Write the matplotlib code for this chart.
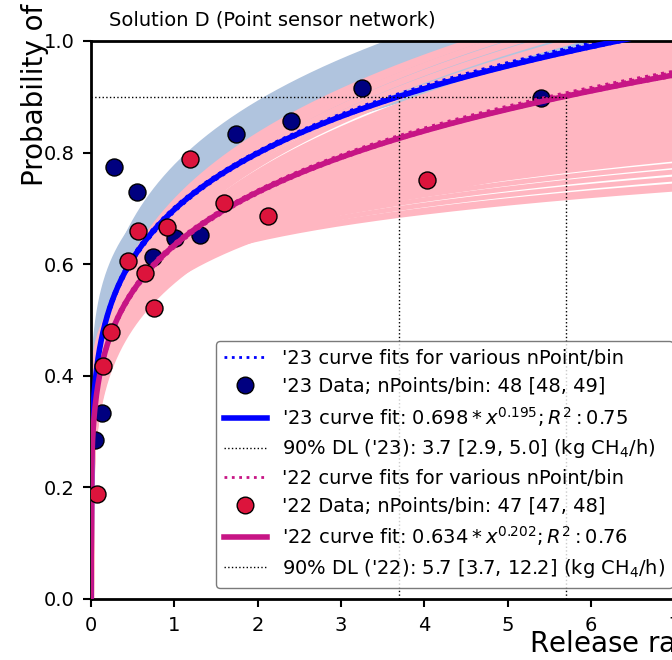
import matplotlib
matplotlib.use("Agg")
import matplotlib.pyplot as plt
from matplotlib.lines import Line2D
import numpy as np

# data
x23 = [0.048, 0.128, 0.28, 0.55, 0.74, 1.01, 1.31, 1.74, 2.40, 3.25, 5.40]
y23 = [0.285, 0.334, 0.775, 0.730, 0.613, 0.647, 0.653, 0.833, 0.856, 0.916, 0.898]

x22 = [0.068, 0.14, 0.24, 0.44, 0.57, 0.65, 0.756, 0.91, 1.19, 1.60, 2.13, 4.03]
y22 = [0.188, 0.418, 0.479, 0.605, 0.660, 0.584, 0.522, 0.666, 0.788, 0.709, 0.687, 0.751]

# main fits  a * x^b
fit23 = (0.698, 0.195)
fit22 = (0.634, 0.202)
dl23 = 3.7
dl22 = 5.7

# fits for various nPoint/bin (dotted)
var23_a = [0.698, 0.694, 0.702, 0.696, 0.700, 0.699]
var23_b = [0.195, 0.198, 0.192, 0.199, 0.197, 0.193]
var22_a = [0.634, 0.630, 0.638, 0.632, 0.636, 0.635]
var22_b = [0.202, 0.205, 0.199, 0.206, 0.204, 0.200]

# bands of fits
band23_a = [0.705, 0.712, 0.719, 0.726, 0.733, 0.740, 0.747, 0.754, 0.761, 0.768, 0.775,
            0.700, 0.705, 0.710, 0.715, 0.720, 0.725, 0.730, 0.735, 0.740]
band23_b = [0.196, 0.197, 0.197, 0.198, 0.198, 0.199, 0.199, 0.200, 0.200, 0.200, 0.200,
            0.185, 0.180, 0.175, 0.170, 0.165, 0.160, 0.155, 0.150, 0.145]

band22_a = [0.571, 0.580, 0.590, 0.600, 0.610, 0.620, 0.630, 0.640, 0.650, 0.660, 0.670,
            0.680, 0.690, 0.700, 0.710, 0.575, 0.580,
            0.634, 0.633, 0.632, 0.631, 0.630, 0.629, 0.628, 0.627, 0.626, 0.625, 0.624,
            0.623, 0.622, 0.621, 0.620, 0.619, 0.618, 0.617, 0.616, 0.615, 0.614, 0.613,
            0.612, 0.610, 0.608, 0.606, 0.603, 0.600, 0.600]
band22_b = [0.220, 0.222, 0.224, 0.226, 0.228, 0.230, 0.232, 0.234, 0.236, 0.237, 0.237,
            0.236, 0.235, 0.233, 0.225, 0.170, 0.165,
            0.205, 0.202, 0.198, 0.195, 0.192, 0.189, 0.186, 0.183, 0.180, 0.177, 0.174,
            0.171, 0.168, 0.165, 0.162, 0.159, 0.156, 0.153, 0.150, 0.147, 0.144, 0.141,
            0.138, 0.132, 0.126, 0.120, 0.114, 0.108, 0.104]

xx = np.linspace(0, 14, 1500)

fig = plt.figure(figsize=(6.72, 6.60), dpi=100)
ax = fig.add_axes([91/672, 61/660, 14*83.33/672, 558/660])

# '23 band
Y23 = np.array([a*xx**b for a, b in zip(band23_a, band23_b)])
ax.fill_between(xx, Y23.min(axis=0), Y23.max(axis=0), color='lightsteelblue', lw=0, zorder=1)
for yb in Y23:
    ax.plot(xx, yb, color='lightsteelblue', lw=2, zorder=1)

# '22 band
Y22 = np.array([a*xx**b for a, b in zip(band22_a, band22_b)])
core = [i for i, (a, b) in enumerate(zip(band22_a, band22_b)) if a <= 0.65 and b >= 0.132]
ax.fill_between(xx, Y22[core].min(axis=0), Y22[core].max(axis=0), color='lightpink',
                lw=0, zorder=1.1)
for a, b, yb in zip(band22_a, band22_b, Y22):
    ax.plot(xx, yb, color='lightpink', lw=4.5 if a > 0.65 else 3.5, zorder=1.1)

for a, b in zip(var23_a, var23_b):
    ax.plot(xx, a*xx**b, color='blue', ls=':', lw=2.2, zorder=2)
ax.scatter(x23, y23, s=150, color='navy', edgecolors='k', linewidths=1, zorder=3)
ax.plot(xx, fit23[0]*xx**fit23[1], color='blue', lw=4, zorder=3)

for a, b in zip(var22_a, var22_b):
    ax.plot(xx, a*xx**b, color='mediumvioletred', ls=':', lw=2.2, zorder=4)
ax.plot(xx, fit22[0]*xx**fit22[1], color='mediumvioletred', lw=4, zorder=4)
ax.scatter(x22, y22, s=150, color='crimson', edgecolors='k', linewidths=1, zorder=5)

# 90% detection limit guides
ax.plot([0, dl22], [0.9, 0.9], 'k:', lw=1, zorder=6)
ax.plot([dl23, dl23], [0, 0.9], 'k:', lw=1, zorder=6)
ax.plot([dl22, dl22], [0, 0.9], 'k:', lw=1, zorder=6)

ax.set_xlim(0, 14)
ax.set_ylim(0, 1.0)
ax.set_xticks(np.arange(0, 15, 1))
ax.set_yticks([0.0, 0.2, 0.4, 0.6, 0.8, 1.0])
ax.set_yticklabels(['0.0', '0.2', '0.4', '0.6', '0.8', '1.0'])
ax.tick_params(labelsize=14, length=6, width=1.5, pad=6)
for sp in ax.spines.values():
    sp.set_linewidth(2)

handles = [
    Line2D([], [], color='blue', ls=':', lw=2),
    Line2D([], [], ls='', marker='o', ms=12, mfc='navy', mec='k'),
    Line2D([], [], color='blue', lw=4),
    Line2D([], [], color='k', ls=':', lw=1),
    Line2D([], [], color='mediumvioletred', ls=':', lw=2),
    Line2D([], [], ls='', marker='o', ms=12, mfc='crimson', mec='k'),
    Line2D([], [], color='mediumvioletred', lw=4),
    Line2D([], [], color='k', ls=':', lw=1),
]
labels = [
    "'23 curve fits for various nPoint/bin",
    "'23 Data; nPoints/bin: 48 [48, 49]",
    r"'23 curve fit: $0.698*x^{0.195}; R^2: 0.75$",
    r"90% DL ('23): 3.7 [2.9, 5.0] (kg CH$_4$/h)",
    "'22 curve fits for various nPoint/bin",
    "'22 Data; nPoints/bin: 47 [47, 48]",
    r"'22 curve fit: $0.634*x^{0.202}; R^2: 0.76$",
    r"90% DL ('22): 5.7 [3.7, 12.2] (kg CH$_4$/h)",
]
leg = ax.legend(handles, labels, loc='lower left', bbox_to_anchor=(216/672, 1-588/660),
                bbox_transform=fig.transFigure, borderaxespad=0, fontsize=14,
                handlelength=2.2, handletextpad=0.8, labelspacing=0.45,
                edgecolor='0.35')
leg.set_zorder(10)

fig.text(109/672, 1-26/660, "Solution D (Point sensor network)", fontsize=14,
         ha='left', va='baseline')
fig.text(35/672, 1-186/660, "Probability of detection", fontsize=20, rotation=90,
         ha='center', va='bottom')
fig.text(529/672, 1-652/660, "Release rate (kg CH$_4$/h)", fontsize=20,
         ha='left', va='baseline')

plt.savefig("out.png", dpi=100)
plt.close()
